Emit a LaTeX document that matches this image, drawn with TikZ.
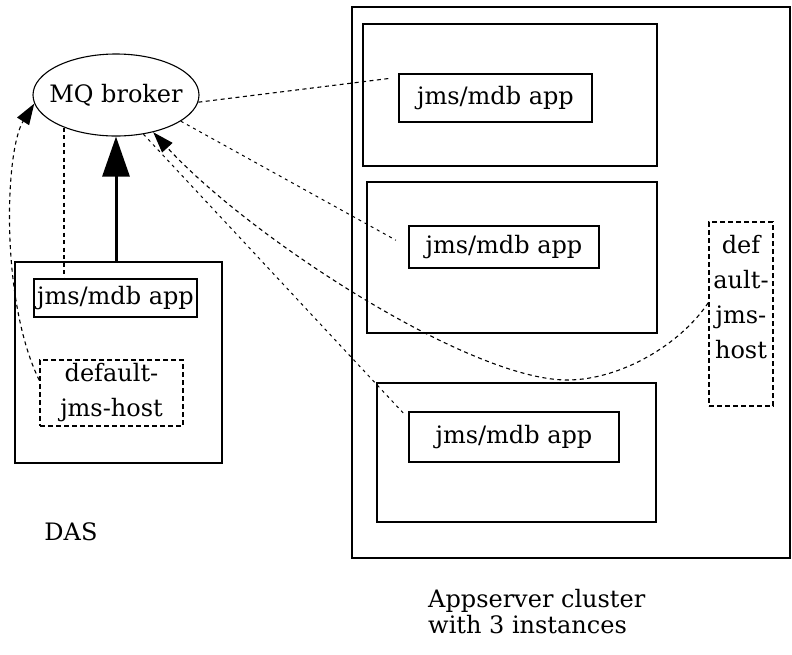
\documentclass[tikz,border=0pt]{standalone}
\usepackage{fontspec}
\newfontfamily\labfont{DejaVu Serif}
\usetikzlibrary{arrows.meta,shapes.geometric,calc}
\tikzset{
  lbl/.style={font=\labfont\fontsize{24}{35}\selectfont, inner sep=0pt},
  box/.style={draw, line width=1.6pt, rectangle, inner sep=0pt},
  appbox/.style={box, lbl},
  dbox/.style={draw, rectangle, line width=1.5pt, dash pattern=on 5pt off 3pt, inner sep=0pt},
  link/.style={line width=1.1pt, dash pattern=on 4pt off 3.5pt},
  fine/.style={line width=1pt, dash pattern=on 3pt off 4pt},
  tip/.style={-{Triangle[length=21pt,width=14pt]}},
}
\begin{document}
\begin{tikzpicture}[x=1pt,y=-1pt]
\useasboundingbox (0,0) rectangle (792,654);

% message broker
\node[lbl, ellipse, draw, line width=1.1pt, inner xsep=-12pt, inner ysep=-4pt,
      minimum width=166pt, minimum height=82pt] (broker) at (116,95) {MQ broker};

% DAS
\node[box, minimum width=207pt, minimum height=201pt] (das) at (118.5,362.5) {};
\node[appbox, minimum width=163pt, minimum height=38pt] (dasapp) at (115.5,298) {jms/mdb app};
\node[dbox, lbl, align=center, minimum width=143pt, minimum height=66pt] (dashost) at (111.5,393) {default-\\jms-host};
\node[lbl, anchor=base] (daslabel) at (71,540) {DAS};

% cluster with its three instances
\node[box, minimum width=438pt, minimum height=551pt] (cluster) at (571,282.5) {};
\node[box, minimum width=294pt, minimum height=142pt] (inst1) at (510,95) {};
\node[appbox, minimum width=193pt, minimum height=48pt] (app1) at (495.5,98) {jms/mdb app};
\node[box, minimum width=290pt, minimum height=151pt] (inst2) at (512,257.5) {};
\node[appbox, minimum width=190pt, minimum height=42pt] (app2) at (504,247) {jms/mdb app};
\node[box, minimum width=279pt, minimum height=139pt] (inst3) at (516.5,452.5) {};
\node[appbox, minimum width=210pt, minimum height=50pt] (app3) at (514,437) {jms/mdb app};
\node[dbox, minimum width=64pt, minimum height=184pt] (hostR) at (741,314) {};
\node[lbl, align=center, anchor=north] (hostRtext) at (741,235) {def\\ault-\\jms-\\host};
\node[lbl, align=left, anchor=base west, font=\labfont\fontsize{24}{26}\selectfont] (clusterlabel) at (428,633) {Appserver cluster\\with 3 instances};

% connectors
\draw[line width=3pt, -{Triangle[length=40pt,width=27pt]}] (broker.south |- das.north) -- (broker.south);
\draw[link] (broker.212) -- (broker.212 |- dasapp.north);
\draw[link, tip] (dashost.170) .. controls (0,300) and (5,150) .. (broker.186);
\draw[link, shorten >=10pt] (broker.-5) -- (app1.168);
\draw[fine, shorten >=14pt] (broker.-22) -- (app2.west);
\draw[fine, shorten >=4pt] (broker.-55) -- (app3.170);
\draw[link, tip] (hostR.161) .. controls (680,345) and (620,380) .. (567,380)
  .. controls (470,380) and (250,238) .. (broker.-45);
\end{tikzpicture}
\end{document}
